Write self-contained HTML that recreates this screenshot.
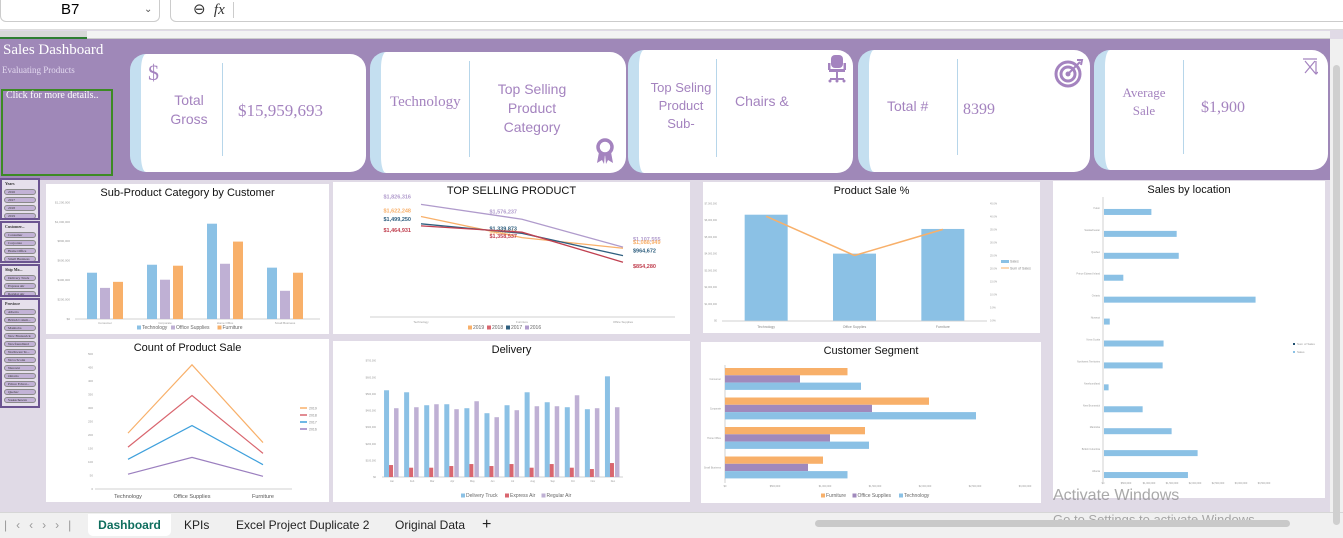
<!DOCTYPE html>
<html><head><meta charset="utf-8">
<style>
*{margin:0;padding:0;box-sizing:border-box}
body{width:1343px;height:538px;overflow:hidden;position:relative;background:#e0dae6;font-family:"Liberation Sans",sans-serif}
.abs{position:absolute}
.card{position:absolute;background:#fff;border-radius:16px;overflow:hidden;border-left:11px solid #c4dff0}
.div{position:absolute;width:1px;background:#b7d6ea}
.ct{position:absolute;color:#a483bf;text-align:center;line-height:1.35}
.serif{font-family:"Liberation Serif",serif}
.chart{position:absolute;background:#fff}
.title{position:absolute;left:0;right:0;text-align:center;font-size:11px;color:#111}
.slicer{position:absolute;left:0;width:40px;border:2px solid #6b5490;background:#e6e0ec;overflow:hidden}
.sh{font-size:4px;font-weight:bold;padding:1px 3px;height:7px;color:#333;font-family:"Liberation Serif",serif}
.pill{height:6px;margin:2px 2px 0 2px;background:#c2b2d6;border-radius:4px;border:1px solid #8a8a8a;font-size:3.5px;padding-left:3px;color:#333;font-family:"Liberation Serif",serif;line-height:5px}
.tab{position:absolute;top:514px;font-size:12px;color:#222;height:22px;line-height:22px}
</style></head><body>
<!-- formula bar -->
<div class="abs" style="left:0;top:0;width:1343px;height:30px;background:#fff;border-bottom:1px solid #ddd"></div>
<div class="abs" style="left:0;top:0;width:160px;height:22px;border:1px solid #ccc;border-top:none;border-radius:0 0 6px 6px;background:#fff;font-size:15px;line-height:20px;padding-left:60px">B7<span style="position:absolute;left:143px;font-size:10px;color:#555">&#8964;</span></div>
<div class="abs" style="left:170px;top:0;width:1180px;height:22px;border:1px solid #ccc;border-top:none;border-radius:0 0 6px 6px;background:#fff;font-size:15px;line-height:20px;padding-left:22px;color:#333">&#8854;&nbsp;&nbsp;<i class="serif">fx</i><span style="display:inline-block;width:1px;height:16px;background:#ccc;margin-left:8px;vertical-align:middle"></span></div>
<div class="abs" style="left:0;top:31px;width:1330px;height:8px;background:#f3f3f3;border-bottom:1px solid #ccc"></div>
<div class="abs" style="left:0;top:31px;width:87px;height:8px;background:#d8d8d8;border-bottom:2px solid #2e7d32"></div>
<!-- header band -->
<div class="abs" style="left:0;top:39px;width:1330px;height:141px;background:#9f88b8"></div>
<div class="abs serif" style="left:3px;top:42px;font-size:15px;color:#fff">Sales Dashboard</div>
<div class="abs serif" style="left:2px;top:65px;font-size:9px;color:#e2d8ef">Evaluating Products</div>
<div class="abs serif" style="left:1px;top:89px;width:112px;height:87px;border:2px solid #3c8a24;font-size:10px;color:#fff;padding-left:3px;line-height:1">Click for more details..</div>
<!-- cards -->
<div class="card" style="left:130px;top:54px;width:236px;height:118px"></div>
<div class="ct serif" style="left:148px;top:58px;font-size:22px">$</div>
<div class="ct" style="left:160px;top:91px;width:58px;font-size:14px">Total<br>Gross</div>
<div class="div" style="left:222px;top:63px;height:93px"></div>
<div class="ct serif" style="left:238px;top:100px;font-size:17px">$15,959,693</div>

<div class="card" style="left:370px;top:52px;width:256px;height:121px"></div>
<div class="ct serif" style="left:390px;top:92px;font-size:15px">Technology</div>
<div class="div" style="left:469px;top:61px;height:96px"></div>
<div class="ct" style="left:486px;top:80px;width:92px;font-size:14px">Top Selling<br>Product<br>Category</div>
<svg class="abs" style="left:594px;top:138px" width="22" height="28"><circle cx="11" cy="9" r="7" fill="none" stroke="#a483bf" stroke-width="3.5"/><path d="M5 14 L3 25 L8 22 L10 26 L11 16Z M17 14 L19 25 L14 22 L12 26 L11 16Z" fill="#a483bf"/></svg>

<div class="card" style="left:628px;top:50px;width:225px;height:123px"></div>
<div class="ct" style="left:646px;top:79px;width:70px;font-size:13px;line-height:1.38">Top Seling<br>Product<br>Sub-</div>
<div class="div" style="left:716px;top:59px;height:98px"></div>
<div class="ct" style="left:735px;top:92px;font-size:14px">Chairs &amp;</div>
<svg class="abs" style="left:826px;top:54px" width="22" height="30"><rect x="5" y="1" width="12" height="13" rx="4" fill="#a483bf"/><rect x="2" y="9" width="2.5" height="7" fill="#a483bf"/><rect x="17.5" y="9" width="2.5" height="7" fill="#a483bf"/><rect x="3" y="15" width="16" height="3" fill="#a483bf"/><rect x="10" y="18" width="2" height="6" fill="#a483bf"/><path d="M4 25h14" stroke="#a483bf" stroke-width="2"/><circle cx="4" cy="27" r="1.5" fill="#a483bf"/><circle cx="11" cy="27" r="1.5" fill="#a483bf"/><circle cx="18" cy="27" r="1.5" fill="#a483bf"/></svg>

<div class="card" style="left:858px;top:50px;width:232px;height:122px"></div>
<div class="ct" style="left:887px;top:97px;font-size:14px">Total #</div>
<div class="div" style="left:957px;top:59px;height:96px"></div>
<div class="ct serif" style="left:963px;top:99px;font-size:16px">8399</div>
<svg class="abs" style="left:1054px;top:58px" width="30" height="30"><circle cx="14" cy="16" r="12" fill="none" stroke="#a483bf" stroke-width="3"/><circle cx="14" cy="16" r="7" fill="none" stroke="#a483bf" stroke-width="3"/><circle cx="14" cy="16" r="2.5" fill="#a483bf"/><path d="M14 16 L26 4" stroke="#a483bf" stroke-width="2"/><path d="M23 2 L28 2 L27 7" fill="none" stroke="#a483bf" stroke-width="2"/></svg>

<div class="card" style="left:1094px;top:50px;width:234px;height:120px"></div>
<div class="ct serif" style="left:1116px;top:84px;width:56px;font-size:13px">Average<br>Sale</div>
<div class="div" style="left:1183px;top:60px;height:94px"></div>
<div class="ct serif" style="left:1201px;top:97px;font-size:16px">$1,900</div>
<svg class="abs" style="left:1302px;top:58px" width="16" height="18"><path d="M1 1h14M3 3 L13 15M13 3 L3 15M14 3v13M12 14l2 2 2-2" fill="none" stroke="#a483bf" stroke-width="1.2"/></svg>

<!-- scrollbar -->
<div class="abs" style="left:1330px;top:39px;width:13px;height:473px;background:#f0f0f0"><div style="position:absolute;left:3px;top:26px;width:7px;height:460px;background:#cfcfcf;border-radius:4px"></div></div>

<!-- slicers -->
<div class="slicer" style="top:178px;height:42px"><div class="sh">Years</div><div class="pill">2016</div><div class="pill">2017</div><div class="pill">2018</div><div class="pill">2019</div></div>
<div class="slicer" style="top:221px;height:42px"><div class="sh">Customer...</div><div class="pill">Consumer</div><div class="pill">Corporate</div><div class="pill">Home Office</div><div class="pill">Small Business</div></div>
<div class="slicer" style="top:264px;height:33px"><div class="sh">Ship Mo...</div><div class="pill">Delivery Truck</div><div class="pill">Express Air</div><div class="pill">Regular Air</div></div>
<div class="slicer" style="top:298px;height:110px"><div class="sh">Province</div><div class="pill">Alberta</div><div class="pill">British Colum...</div><div class="pill">Manitoba</div><div class="pill">New Brunswick</div><div class="pill">Newfoundland</div><div class="pill">Northwest Te...</div><div class="pill">Nova Scotia</div><div class="pill">Nunavut</div><div class="pill">Ontario</div><div class="pill">Prince Edwar...</div><div class="pill">Quebec</div><div class="pill">Saskachewan</div></div>

<!-- chart panels -->
<div class="chart" style="left:46px;top:184px;width:283px;height:150px"><div class="title" style="top:3px">Sub-Product Category by Customer</div></div>
<div class="chart" style="left:46px;top:339px;width:283px;height:163px"><div class="title" style="top:3px">Count of Product Sale</div></div>
<div class="chart" style="left:333px;top:182px;width:357px;height:152px"><div class="title" style="top:3px">TOP SELLING PRODUCT</div></div>
<div class="chart" style="left:333px;top:341px;width:357px;height:161px"><div class="title" style="top:3px">Delivery</div></div>
<div class="chart" style="left:703px;top:182px;width:337px;height:151px"><div class="title" style="top:3px">Product Sale %</div></div>
<div class="chart" style="left:701px;top:342px;width:340px;height:161px"><div class="title" style="top:3px">Customer Segment</div></div>
<div class="chart" style="left:1053px;top:181px;width:272px;height:317px"><div class="title" style="top:3px">Sales by location</div></div>

<svg id="marks" class="abs" style="left:0;top:0" width="1343" height="538"></svg>

<!-- watermark -->
<div class="abs" style="left:1053px;top:487px;font-size:16px;color:rgba(140,140,140,0.75)">Activate Windows</div>
<div class="abs" style="left:1053px;top:512px;font-size:13px;color:rgba(140,140,140,0.75)">Go to Settings to activate Windows.</div>

<!-- tabs -->
<div class="abs" style="left:0;top:512px;width:1343px;height:26px;background:#f0f0f0;border-top:1px solid #d6d6d6;z-index:-1"></div>
<div class="tab" style="left:4px;color:#999;letter-spacing:9px">|&lsaquo;&lsaquo;&rsaquo;&rsaquo;|</div>
<div class="tab" style="left:88px;width:83px;background:#fff;text-align:center;color:#0f6e5e;font-weight:bold;border-radius:0 0 5px 5px">Dashboard</div>
<div class="tab" style="left:184px">KPIs</div>
<div class="tab" style="left:236px">Excel Project Duplicate 2</div>
<div class="tab" style="left:395px">Original Data</div>
<div class="tab" style="left:482px;font-size:16px">+</div>
<div class="abs" style="left:815px;top:520px;width:475px;height:7px;background:#c9c9c9;border-radius:4px"></div>

<script>
// ---------- data ----------
const subCats = ["Consumer","Corporate","Home Office","Small Business"];
const subTech = [2.38,2.79,4.9,2.64];
const subOffice = [1.6,2.02,2.84,1.45];
const subFurn = [1.91,2.74,3.98,2.38];
const subTicks = ["$0","$200,000","$400,000","$600,000","$800,000","$1,000,000","$1,200,000"];

const cntCats = ["Technology","Office Supplies","Furniture"];
const cnt2019 = [207,460,172];
const cnt2018 = [155,346,132];
const cnt2017 = [110,235,90];
const cnt2016 = [55,117,47];
const cntTicks = [0,50,100,150,200,250,300,350,400,450,500];

const topCats = ["Technology","Furniture","Office Supplies"];
const top2019 = [1622248,1266644,1088949];
const top2018 = [1464931,1358537,854280];
const top2017 = [1499250,1339873,964672];
const top2016 = [1826316,1576237,1107555];

const delMonths = ["Jan","Feb","Mar","Apr","May","Jun","Jul","Aug","Sep","Oct","Nov","Dec"];
const delTruck = [5.22,5.1,4.32,4.38,4.14,3.84,4.32,5.1,4.5,4.2,4.08,6.06];
const delExpress = [0.72,0.56,0.56,0.66,0.78,0.66,0.78,0.56,0.78,0.56,0.48,0.84];
const delRegular = [4.14,4.2,4.38,4.08,4.56,3.6,4.02,4.26,4.26,4.92,4.14,4.2];
const delTicks = ["$0","$100,000","$200,000","$300,000","$400,000","$500,000","$600,000","$700,000"];

const pctCats = ["Technology","Office Supplies","Furniture"];
const pctSales = [6.32,4.0,5.47];
const pctShare = [40,25,35];
const pctLeftTicks = ["$0","$1,000,000","$2,000,000","$3,000,000","$4,000,000","$5,000,000","$6,000,000","$7,000,000"];
const pctRightTicks = ["0.0%","5.0%","10.0%","15.0%","20.0%","25.0%","30.0%","35.0%","40.0%","45.0%"];

const segCats = ["Consumer","Corporate","Home Office","Small Business"];
const segFurn = [2.45,4.08,2.8,1.96];
const segOffice = [1.5,2.94,2.1,1.66];
const segTech = [2.72,5.02,2.88,2.45];
const segTicks = ["$0","$500,000","$1,000,000","$1,500,000","$2,000,000","$2,500,000","$3,000,000"];

const locNames = ["Yukon","Saskachewan","Quebec","Prince Edward Island","Ontario","Nunavut","Nova Scotia","Northwest Territories","Newfoundland","New Brunswick","Manitoba","British Columbia","Alberta"];
const locSales = [2.06,3.16,3.25,0.84,6.59,0.25,2.59,2.55,0.2,1.68,2.94,4.07,3.65];
const locTicks = ["$0","$500,000","$1,000,000","$1,500,000","$2,000,000","$2,500,000","$3,000,000","$3,500,000"];

// ---------- helpers ----------
const NS="http://www.w3.org/2000/svg";
const svg=document.getElementById('marks');
const BLUE="#8bc1e5",PURP="#bfb0d4",ORNG="#f8b06a",RED="#d9666f",DPURP="#a089bc";
function mk(tag,attrs){const e=document.createElementNS(NS,tag);for(const k in attrs)e.setAttribute(k,attrs[k]);svg.appendChild(e);return e;}
function lin(d0,d1,r0,r1){return v=>r0+(v-d0)*(r1-r0)/(d1-d0);}
function label(x,y,t,anchor,size,color){const e=mk('text',{x:x,y:y,'text-anchor':anchor||'middle','font-size':size||4,fill:color||'#999','font-family':'Liberation Sans, sans-serif'});e.textContent=t;


return e;}
function axisLine(x1,y1,x2,y2){const e=mk('line',{x1:x1,y1:y1,x2:x2,y2:y2,stroke:'#d0d0d0','stroke-width':1});

}
function bar(x,y,w,h,c,name){const e=mk('rect',{x:x,y:y,width:w,height:h,fill:c});

}
function poly(xs,ys,c,w,name){const e=mk('polyline',{points:xs.map((x,i)=>x+','+ys[i]).join(' '),fill:'none',stroke:c,'stroke-width':w||1.2});

}
function legendItems(items,x,y,size){let cx=x;items.forEach(it=>{const s=mk('rect',{x:cx,y:y-3.5,width:4,height:4,fill:it[1]});


const t=label(cx+5,y,it[0],'start',size||5,'#666');cx+=6+it[0].length*(size||5)*0.5+3;});}

// ---------- Sub-product category ----------
(function(){
 const x0=75,x1=315,y=lin(0,6,319,202.3);
 subTicks.forEach((t,i)=>label(70,y(i)+1,t,'end',3));
 axisLine(x0,319,x1+5,319);
 const gw=(x1-x0)/subCats.length;
 subCats.forEach((c,i)=>{const cx=x0+gw*i+gw/2;
  bar(cx-18,y(subTech[i]),10,319-y(subTech[i]),BLUE,'bar-technology');
  bar(cx-5,y(subOffice[i]),10,319-y(subOffice[i]),PURP,'bar-office-supplies');
  bar(cx+8,y(subFurn[i]),10,319-y(subFurn[i]),ORNG,'bar-furniture');
  label(cx,324,c,'middle',3);});
 legendItems([["Technology",BLUE],["Office Supplies",PURP],["Furniture",ORNG]],137,329,5);
})();

// ---------- Count of product sale ----------
(function(){
 const y=lin(0,500,489,354),xs=[128,192,263];
 cntTicks.forEach(t=>label(93,y(t)+1,String(t),'end',3));
 axisLine(95,489,292,489);
 cntCats.forEach((c,i)=>label(xs[i],498,c,'middle',5.5,'#555'));
 const ser=[["2019",cnt2019,ORNG],["2018",cnt2018,RED],["2017",cnt2017,"#3fa0dc"],["2016",cnt2016,"#9b7fbf"]];
 ser.forEach((s,k)=>{poly(xs,s[1].map(y),s[2],1.2,'line-'+s[0]);
  const l=mk('line',{x1:300,y1:408+k*7,x2:307,y2:408+k*7,stroke:s[2],'stroke-width':1.5});
  
  
  label(309,409.5+k*7,s[0],'start',3.5,'#888');});
})();

// ---------- Top selling product ----------
(function(){
 const y=lin(0,1900000,313,200),xs=[421,522,623];
 axisLine(370,317,675,317);
 topCats.forEach((c,i)=>label(xs[i],323,c,'middle',3));
 const fmt=v=>'$'+v.toLocaleString('en-US');
 const ser=[["2016",top2016,"#b09bcc",-8],["2019",top2019,ORNG,-6],["2017",top2017,"#2f5f7f",-5],["2018",top2018,"#c04050",4]];
 ser.forEach(s=>{poly(xs,s[1].map(y),s[2],1.3,'line-'+s[0]);
  s[1].forEach((v,i)=>{const dx=i==0?-10:(i==1?-5:10);label(xs[i]+dx,y(v)+s[3]+2,fmt(v),i==2?'start':'end',5.5,s[2]).setAttribute('font-weight','bold');});});
 legendItems([["2019",ORNG],["2018",RED],["2017","#2f5f7f"],["2016","#b09bcc"]],468,329,5);
})();

// ---------- Delivery ----------
(function(){
 const x0=382,x1=623,y=lin(0,7,477,360.7);
 delTicks.forEach((t,i)=>label(x0-6,y(i)+1,t,'end',2.5));
 axisLine(x0,477,x1,477);
 const gw=(x1-x0)/delMonths.length;
 delMonths.forEach((m,i)=>{const cx=x0+gw*i+gw/2;
  bar(cx-8,y(delTruck[i]),5,477-y(delTruck[i]),BLUE,'bar-delivery-truck');
  bar(cx-3,y(delExpress[i]),4,477-y(delExpress[i]),RED,'bar-express-air');
  bar(cx+2,y(delRegular[i]),4.5,477-y(delRegular[i]),PURP,'bar-regular-air');
  label(cx,482,m,'middle',2.5);});
 legendItems([["Delivery Truck",BLUE],["Express Air",RED],["Regular Air",PURP]],461,497,5);
})();

// ---------- Product sale % ----------
(function(){
 const x0=722,x1=987,y=lin(0,7,320.7,203.3),y2=lin(0,45,320.7,203.3);
 pctLeftTicks.forEach((t,i)=>label(717,y(i)+1,t,'end',2.5));
 pctRightTicks.forEach((t,i)=>label(990,y2(i*5)+1,t,'start',2.5));
 axisLine(x0,321,x1,321);
 const gw=(x1-x0)/3;const cxs=pctCats.map((c,i)=>x0+gw*i+gw/2);
 pctCats.forEach((c,i)=>{bar(cxs[i]-21.5,y(pctSales[i]),43,320.7-y(pctSales[i]),BLUE,'bar-sales');label(cxs[i],328,c,'middle',3.5,'#888');});
 poly(cxs,pctShare.map(y2),ORNG,1.5,'line-sum-of-sales');
 bar(1001,260,8,3,BLUE,'legend-sales');label(1010,262.5,'Sales','start',3.5,'#888');
 poly([1001,1009],[268,268],ORNG,1,'legend-sum-line');label(1010,269.5,'Sum of Sales','start',3.5,'#888');
})();

// ---------- Customer segment ----------
(function(){
 const x=lin(0,6,725,1025),y0=365,y1=483;
 segTicks.forEach((t,i)=>label(x(i),487,t,'middle',2.5));
 axisLine(725,y0,725,y1);
 const gh=(y1-y0)/4;
 segCats.forEach((c,i)=>{const top=y0+gh*i+3;
  bar(725,top,x(segFurn[i])-725,7.3,ORNG,'bar-furniture');
  bar(725,top+7.3,x(segOffice[i])-725,7.3,DPURP,'bar-office-supplies');
  bar(725,top+14.6,x(segTech[i])-725,7.3,BLUE,'bar-technology');
  label(721,top+12,c,'end',2.5);});
 legendItems([["Furniture",ORNG],["Office Supplies",DPURP],["Technology",BLUE]],821,497,5);
})();

// ---------- Sales by location ----------
(function(){
 const x=lin(0,7,1103,1264),y0=197,y1=482;
 locTicks.forEach((t,i)=>label(x(i),484,t,'middle',2.5));
 axisLine(1103,y0,1103,y1);
 const gh=(y1-y0)/locNames.length;
 locNames.forEach((n,i)=>{const cy=y0+gh*i+gh/2+4;
  bar(1104,cy-3,x(locSales[i])-1103,6,BLUE,'bar-location');
  label(1100,cy-3,n,'end',2.5);});
 bar(1293,343,2,2,'#1f4e6f','legend-sum-of-sales');label(1297,345,'Sum of Sales','start',3,'#999');
 bar(1293,351,2,2,BLUE,'legend-sales');label(1297,353,'Sales','start',3,'#999');
})();
</script>
</body></html>
